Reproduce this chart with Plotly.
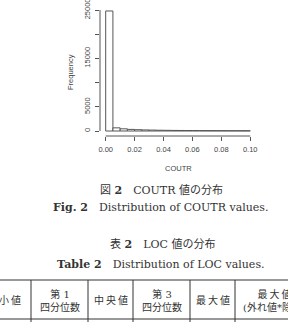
import plotly.graph_objects as go

# ---- data ----
bin_starts = [0.000, 0.005, 0.010, 0.015, 0.020, 0.025, 0.030, 0.035, 0.040, 0.045,
              0.050, 0.055, 0.060, 0.065, 0.070, 0.075, 0.080, 0.085, 0.090, 0.095]
bin_width = 0.005
counts = [24800, 650, 450, 330, 270, 220, 190, 160, 140, 120,
          110, 100, 90, 85, 80, 75, 70, 65, 60, 55]
x_ticks = [0.00, 0.02, 0.04, 0.06, 0.08, 0.10]
x_tick_text = ["0.00", "0.02", "0.04", "0.06", "0.08", "0.10"]
y_ticks = [0, 5000, 10000, 15000, 20000, 25000]
y_tick_text = ["0", "5000", "", "15000", "", "25000"]
x_title = "COUTR"
y_title = "Frequency"
fig_caption_ja = "図 <b>2</b>\u2003COUTR 値の分布"
fig_caption_en = "<b>Fig. 2</b>\u2003Distribution of COUTR values."
tab_caption_ja = "表 <b>2</b>\u2003LOC 値の分布"
tab_caption_en = "<b>Table 2</b>\u2003Distribution of LOC values."
table_headers = ["最\u2009小\u2009値", "第 1<br>四分位数", "中\u2009央\u2009値", "第 3<br>四分位数",
                 "最\u2009大\u2009値", "最\u2009大\u2009値<br>(外れ値*除く)"]

# ---- layout helpers (pixel positions) ----
W_FIG, H_FIG = 288, 322
ML, MR, MT, MB = 100, 32, 7, 186
PW, PH = W_FIG - ML - MR, H_FIG - MT - MB

def px(x):
    return (x - ML) / PW

def py(y):
    return (H_FIG - MB - y) / PH

axis_font = dict(family="Liberation Sans, Arial, sans-serif", size=7.5, color="#444")
serif = "DejaVu Serif, Noto Sans CJK JP, serif"
ink = "#333"

fig = go.Figure()
fig.add_trace(go.Bar(
    x=[s + bin_width / 2 for s in bin_starts], y=counts, width=bin_width,
    marker=dict(color="white", line=dict(color="#555", width=1)),
    hoverinfo="skip",
))

fig.update_layout(
    width=W_FIG, height=H_FIG,
    margin=dict(l=ML, r=MR, t=MT, b=MB, pad=0, autoexpand=False),
    paper_bgcolor="white", plot_bgcolor="white",
    showlegend=False,
    xaxis=dict(range=[-0.00394, 0.104], showgrid=False, zeroline=False, showline=False,
               automargin=False,
               tickvals=x_ticks, ticktext=x_tick_text, ticks="outside", ticklen=4,
               tickcolor="#555", tickwidth=1, tickfont=axis_font, ticklabelstandoff=2),
    yaxis=dict(range=[-1033, 25620], showgrid=False, zeroline=False, showline=False,
               automargin=False,
               tickvals=y_ticks, ticktext=y_tick_text, ticks="outside", ticklen=4,
               tickcolor="#555", tickwidth=1, tickfont=axis_font, tickangle=-90,
               ticklabelstandoff=2, ticklabeloverflow="allow"),
)

# R-style axis lines (spanning the tick range only)
fig.add_shape(type="line", xref="x", yref="paper", x0=x_ticks[0], x1=x_ticks[-1], y0=0, y1=0,
              line=dict(color="#555", width=1))
fig.add_shape(type="line", xref="paper", yref="y", x0=0, x1=0, y0=y_ticks[0], y1=y_ticks[-1],
              line=dict(color="#555", width=1))

ann = []
ann.append(dict(text=x_title, x=px(178), y=py(168), font=axis_font))
ann.append(dict(text=y_title, x=px(70), y=py(72), font=axis_font, textangle=-90))
ann.append(dict(text=fig_caption_ja, x=px(161), y=py(190), font=dict(family=serif, size=11, color=ink)))
ann.append(dict(text=fig_caption_en, x=px(161), y=py(207), font=dict(family=serif, size=11, color=ink)))
ann.append(dict(text=tab_caption_ja, x=px(162), y=py(244), font=dict(family=serif, size=11, color=ink)))
ann.append(dict(text=tab_caption_en, x=px(161), y=py(264), font=dict(family=serif, size=11, color=ink)))

# table header
col_centers = [4, 59.5, 110.5, 161.5, 212.5, 274]
col_lines = [31, 88, 133, 190, 235]
for label, cx in zip(table_headers, col_centers):
    ann.append(dict(text=label, x=px(cx), y=py(300),
                    font=dict(family=serif, size=10, color=ink)))
for a in ann:
    a.update(xref="paper", yref="paper", showarrow=False, xanchor="center", yanchor="middle")
fig.update_layout(annotations=ann)

for yy in [280, 319]:
    fig.add_shape(type="line", xref="paper", yref="paper", x0=px(-5), x1=px(295),
                  y0=py(yy), y1=py(yy), line=dict(color=ink, width=1))
for xx in col_lines:
    fig.add_shape(type="line", xref="paper", yref="paper", x0=px(xx), x1=px(xx),
                  y0=py(280), y1=py(330), line=dict(color=ink, width=1))

fig.write_html("out.html")
